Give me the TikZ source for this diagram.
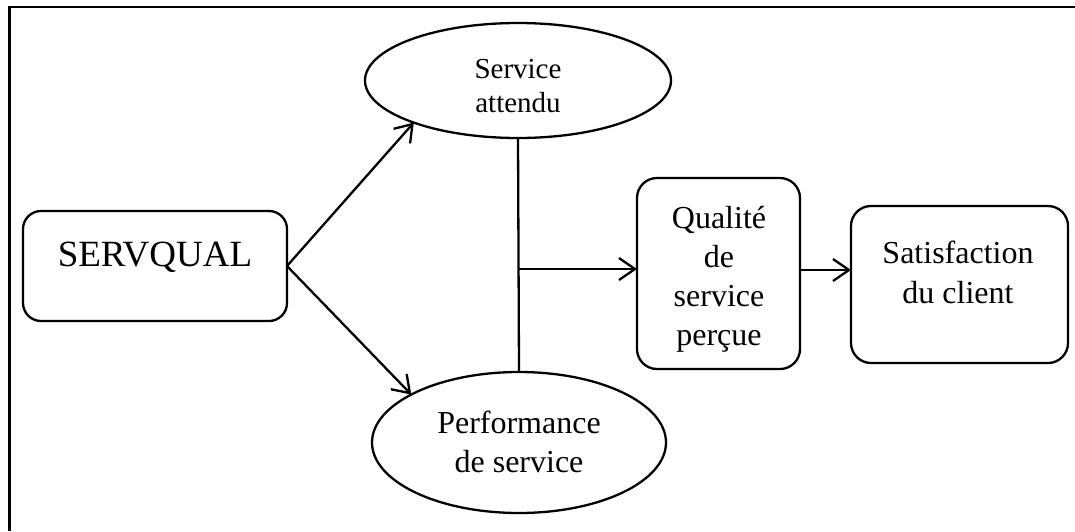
\documentclass[tikz,border=0pt]{standalone}
\usepackage{fontspec}
\setmainfont{Liberation Serif}
\usetikzlibrary{shapes.geometric,arrows.meta}
\begin{document}
\begin{tikzpicture}[x=0.5pt,y=-0.5pt,line width=1.15pt,
  box/.style={draw,rounded corners=9pt,inner sep=0pt,outer sep=0pt},
  oval/.style={draw,ellipse,inner sep=0pt,outer sep=0pt},
  txt/.style={anchor=base,inner sep=0pt,font=\fontsize{16}{20}\selectfont},
  smalltxt/.style={txt,font=\fontsize{14.5}{17}\selectfont},
  bigtxt/.style={txt,font=\fontsize{18.5}{22}\selectfont},
  arr/.style={-{Straight Barb[length=8pt,width=11pt]}}]
\useasboundingbox (0,0) rectangle (1075,531);
% frame (top and left edges only)
\coordinate (fa) at (9.5,531);
\coordinate (fb) at (9.5,7);
\coordinate (fc) at (1075,7);
\draw[line width=1.3pt] (fa) -- (fb) -- (fc);
% SERVQUAL
\node[box,minimum width=132pt,minimum height=55pt] (sq) at (155,266) {};
\node[bigtxt] (sqt) at (155,266) {SERVQUAL};
% Service attendu
\node[oval,minimum width=153pt,minimum height=57.5pt] (att) at (518,80.5) {};
\node[smalltxt] (att1) at (518,78) {Service};
\node[smalltxt] (att2) at (518,112) {attendu};
% Performance de service
\node[oval,minimum width=147pt,minimum height=70.5pt] (perf) at (519,442.5) {};
\node[txt] (perf1) at (519,433) {Performance};
\node[txt] (perf2) at (519,472) {de service};
% Qualite de service percue
\node[box,rounded corners=10pt,minimum width=81.5pt,minimum height=95.5pt] (qual) at (718.5,273.5) {};
\node[txt] (q1) at (719,228) {Qualité};
\node[txt] (q2) at (719,267) {de};
\node[txt] (q3) at (719,306) {service};
\node[txt] (q4) at (719,345) {perçue};
% Satisfaction du client
\node[box,rounded corners=10pt,minimum width=108.5pt,minimum height=78.5pt] (sat) at (959.5,284.5) {};
\node[txt] (s1) at (958,263) {Satisfaction};
\node[txt] (s2) at (958,303) {du client};
% connectors
\draw[arr] (sq.east) -- (att.202);
\draw[arr] (sq.east) -- (perf.156);
\draw (att.south) -- (perf.north);
\coordinate (j) at (518,269);
\draw[arr] (j) -- (j -| qual.west);
\coordinate (ky) at (0,270);
\draw[arr] (qual.east |- ky) -- (sat.west |- ky);
\end{tikzpicture}
\end{document}
